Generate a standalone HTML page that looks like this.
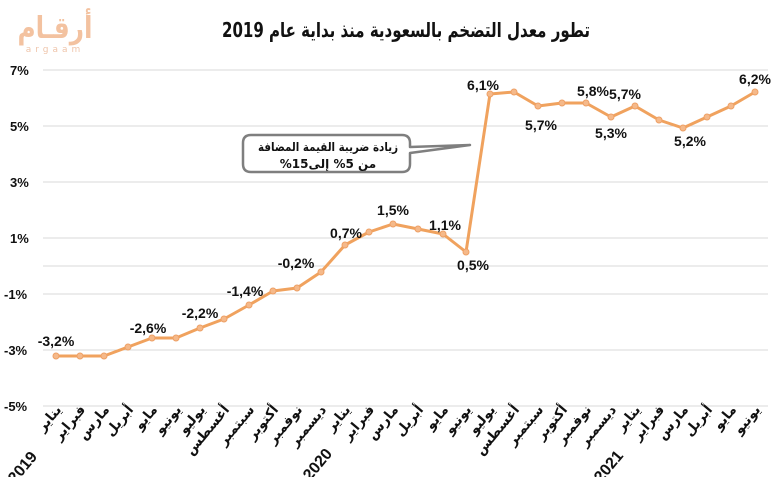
<!DOCTYPE html>
<html><head><meta charset="utf-8"><style>
html,body{margin:0;padding:0;background:#fff;}
svg{display:block;}
text{font-family:"DejaVu Sans","Liberation Sans",sans-serif;}
.ax{font-family:"Liberation Sans",sans-serif;font-weight:bold;font-size:13px;fill:#111;}
.dl{font-family:"Liberation Sans",sans-serif;font-weight:bold;font-size:14px;fill:#111;text-anchor:middle;}
.m{font-weight:bold;font-size:13.5px;fill:#111;text-anchor:end;}
.yr{font-family:"Liberation Sans",sans-serif;font-weight:bold;font-size:16px;fill:#111;text-anchor:end;}
</style></head><body>
<svg width="783" height="477" viewBox="0 0 783 477" xmlns="http://www.w3.org/2000/svg">
<text x="55" y="38" font-size="30" font-weight="bold" fill="#f3c2a0" text-anchor="middle" textLength="75" lengthAdjust="spacingAndGlyphs">أرقـام</text>
<text x="55" y="52" font-size="9" fill="#efc5ab" text-anchor="middle" letter-spacing="4" font-family="Liberation Sans">argaam</text>
<text x="406" y="37" font-size="20" font-weight="bold" fill="#111" text-anchor="middle" textLength="368" lengthAdjust="spacingAndGlyphs">تطور معدل التضخم بالسعودية منذ بداية عام 2019</text>
<g stroke="#d9d9d9" stroke-width="1">
<line x1="43" x2="768" y1="70" y2="70"/><line x1="43" x2="768" y1="126" y2="126"/>
<line x1="43" x2="768" y1="182" y2="182"/><line x1="43" x2="768" y1="238" y2="238"/>
<line x1="43" x2="768" y1="266" y2="266"/><line x1="43" x2="768" y1="294" y2="294"/>
<line x1="43" x2="768" y1="350" y2="350"/><line x1="43" x2="768" y1="406" y2="406"/>
</g>
<text class="ax" x="10" y="75">7%</text><text class="ax" x="10" y="131">5%</text>
<text class="ax" x="10" y="187">3%</text><text class="ax" x="10" y="243">1%</text>
<text class="ax" x="4" y="299">-1%</text><text class="ax" x="4" y="355">-3%</text>
<text class="ax" x="4" y="411">-5%</text>
<polyline fill="none" stroke="#f0a25e" stroke-width="3" stroke-linejoin="round" points="56,356 80,356 104,356 128,347 152,338 176,338 200,328 224,319 249,305 273,291 297,288 321,272 345,245 369,232 393,224 418,229 443,234 466,252 490,94 514,92 538,106 562,103 586,103 611,117 635,106 659,120 683,128 707,117 731,106 755,92"/>
<g fill="#f5b98a" stroke="#eea066" stroke-width="1">
<circle cx="56" cy="356" r="3"/><circle cx="80" cy="356" r="3"/><circle cx="104" cy="356" r="3"/><circle cx="128" cy="347" r="3"/><circle cx="152" cy="338" r="3"/><circle cx="176" cy="338" r="3"/><circle cx="200" cy="328" r="3"/><circle cx="224" cy="319" r="3"/><circle cx="249" cy="305" r="3"/><circle cx="273" cy="291" r="3"/><circle cx="297" cy="288" r="3"/><circle cx="321" cy="272" r="3"/><circle cx="345" cy="245" r="3"/><circle cx="369" cy="232" r="3"/><circle cx="393" cy="224" r="3"/><circle cx="418" cy="229" r="3"/><circle cx="443" cy="234" r="3"/><circle cx="466" cy="252" r="3"/><circle cx="490" cy="94" r="3"/><circle cx="514" cy="92" r="3"/><circle cx="538" cy="106" r="3"/><circle cx="562" cy="103" r="3"/><circle cx="586" cy="103" r="3"/><circle cx="611" cy="117" r="3"/><circle cx="635" cy="106" r="3"/><circle cx="659" cy="120" r="3"/><circle cx="683" cy="128" r="3"/><circle cx="707" cy="117" r="3"/><circle cx="731" cy="106" r="3"/><circle cx="755" cy="92" r="3"/>
</g>
<text class="dl" x="56" y="346">-3,2%</text><text class="dl" x="148" y="333">-2,6%</text>
<text class="dl" x="200" y="318">-2,2%</text><text class="dl" x="245" y="296">-1,4%</text>
<text class="dl" x="296" y="268">-0,2%</text><text class="dl" x="346" y="238">0,7%</text>
<text class="dl" x="393" y="215">1,5%</text><text class="dl" x="445" y="230">1,1%</text>
<text class="dl" x="473" y="270">0,5%</text><text class="dl" x="483" y="90">6,1%</text>
<text class="dl" x="541" y="130">5,7%</text><text class="dl" x="593" y="96">5,8%</text>
<text class="dl" x="611" y="138">5,3%</text><text class="dl" x="625" y="99">5,7%</text>
<text class="dl" x="690" y="146">5,2%</text><text class="dl" x="755" y="84">6,2%</text>
<path d="M251,135 H402 Q410,135 410,143 V147 L470,145 L410,153 V164 Q410,172 402,172 H251 Q243,172 243,164 V143 Q243,135 251,135 Z" fill="#fff" stroke="#7f7f7f" stroke-width="2.5" stroke-linejoin="round"/>
<text x="328" y="151" font-size="12" font-weight="bold" fill="#111" text-anchor="middle" textLength="140" lengthAdjust="spacingAndGlyphs">زيادة ضريبة القيمة المضافة</text>
<text x="328" y="168" font-size="12" font-weight="bold" fill="#111" text-anchor="middle" direction="rtl" unicode-bidi="embed">من 5% إلى15%</text>
<g>
<text class="m" transform="translate(62,410) rotate(-50)">يناير</text>
<text class="m" transform="translate(86,410) rotate(-50)">فبراير</text>
<text class="m" transform="translate(110,410) rotate(-50)">مارس</text>
<text class="m" transform="translate(134,410) rotate(-50)">أبريل</text>
<text class="m" transform="translate(158,410) rotate(-50)">مايو</text>
<text class="m" transform="translate(182,410) rotate(-50)">يونيو</text>
<text class="m" transform="translate(206,410) rotate(-50)">يوليو</text>
<text class="m" transform="translate(230,410) rotate(-50)">أغسطس</text>
<text class="m" transform="translate(255,410) rotate(-50)">سبتمبر</text>
<text class="m" transform="translate(279,410) rotate(-50)">أكتوبر</text>
<text class="m" transform="translate(303,410) rotate(-50)">نوفمبر</text>
<text class="m" transform="translate(327,410) rotate(-50)">ديسمبر</text>
<text class="m" transform="translate(351,410) rotate(-50)">يناير</text>
<text class="m" transform="translate(375,410) rotate(-50)">فبراير</text>
<text class="m" transform="translate(399,410) rotate(-50)">مارس</text>
<text class="m" transform="translate(424,410) rotate(-50)">أبريل</text>
<text class="m" transform="translate(449,410) rotate(-50)">مايو</text>
<text class="m" transform="translate(472,410) rotate(-50)">يونيو</text>
<text class="m" transform="translate(496,410) rotate(-50)">يوليو</text>
<text class="m" transform="translate(520,410) rotate(-50)">أغسطس</text>
<text class="m" transform="translate(544,410) rotate(-50)">سبتمبر</text>
<text class="m" transform="translate(568,410) rotate(-50)">أكتوبر</text>
<text class="m" transform="translate(592,410) rotate(-50)">نوفمبر</text>
<text class="m" transform="translate(617,410) rotate(-50)">ديسمبر</text>
<text class="m" transform="translate(641,410) rotate(-50)">يناير</text>
<text class="m" transform="translate(665,410) rotate(-50)">فبراير</text>
<text class="m" transform="translate(689,410) rotate(-50)">مارس</text>
<text class="m" transform="translate(713,410) rotate(-50)">أبريل</text>
<text class="m" transform="translate(737,410) rotate(-50)">مايو</text>
<text class="m" transform="translate(761,410) rotate(-50)">يونيو</text>
<text class="yr" transform="translate(38,457) rotate(-50)">2019</text>
<text class="yr" transform="translate(333,454) rotate(-50)">2020</text>
<text class="yr" transform="translate(624,456) rotate(-50)">2021</text>
</g>
</svg>
</body></html>
